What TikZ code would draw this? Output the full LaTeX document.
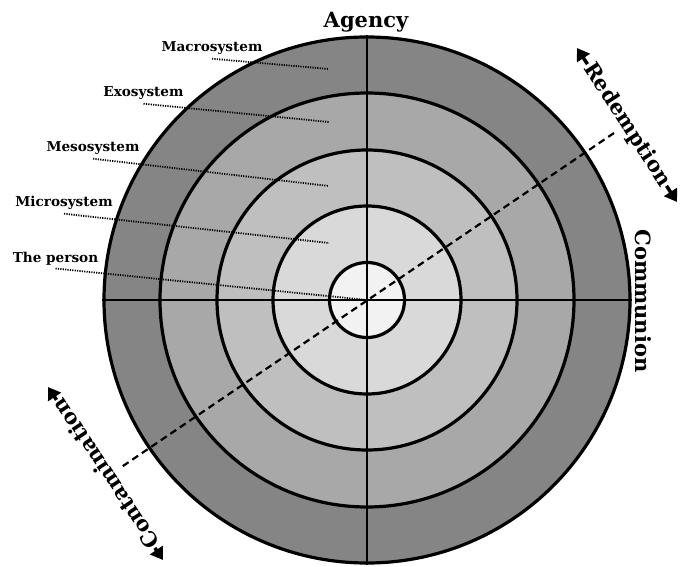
\documentclass[tikz,border=0pt]{standalone}
\usepackage{fontspec}
\setmainfont{DejaVu Serif}
\usepackage{tikz}
\usetikzlibrary{arrows.meta}
\definecolor{macrogray}{HTML}{858585}
\definecolor{exogray}{HTML}{A8A8A8}
\definecolor{mesogray}{HTML}{BFBFBF}
\definecolor{microgray}{HTML}{D9D9D9}
\definecolor{persongray}{HTML}{F2F2F2}
\tikzstyle{ring} = [circle, draw=black, line width=3.2pt, inner sep=0pt]
\tikzstyle{axis} = [line width=2.8pt]
\tikzstyle{slashline} = [line width=2.2pt, dash pattern=on 7pt off 4.5pt]
\tikzstyle{leader} = [line width=1.8pt, dash pattern=on 1.2pt off 1.2pt]
\tikzstyle{levellabel} = [font=\fontsize{13.6}{16}\selectfont\bfseries, inner sep=3.5pt, anchor=base]
\tikzstyle{dimlabel} = [font=\fontsize{21}{25}\selectfont\bfseries, inner sep=1pt]
\tikzstyle{bigarrow} = [line width=3.5pt, -{Triangle[width=15pt,length=12pt]}]

\begin{document}
\begin{tikzpicture}[x=1pt, y=-1pt]
\useasboundingbox (0,0) rectangle (681,567);
\coordinate (c) at (367,300);

% rings, outermost first
\node (macro) [ring, fill=macrogray, minimum size=526pt] at (c) {};
\node (exo) [ring, fill=exogray, minimum size=414pt] at (c) {};
\node (meso) [ring, fill=mesogray, minimum size=300pt] at (c) {};
\node (micro) [ring, fill=microgray, minimum size=188pt] at (c) {};
\node (person) [ring, fill=persongray, minimum size=75pt] at (c) {};

% axes
\draw [axis] (macro.north) -- (macro.south);
\draw [axis] (macro.west) -- (macro.east);
\coordinate (dashA) at (614,133);
\coordinate (dashB) at (120,468);
\draw [slashline] (dashA) -- (dashB);

% level labels
\node (macrolabel) [levellabel] at (212,52) {Macrosystem};
\node (exolabel) [levellabel] at (143.5,97) {Exosystem};
\node (mesolabel) [levellabel] at (93,152) {Mesosystem};
\node (microlabel) [levellabel] at (64,207) {Microsystem};
\node (personlabel) [levellabel] at (55.5,262) {The person};

\coordinate (macropt) at (329,69);
\coordinate (exopt) at (329,122);
\coordinate (mesopt) at (329,186);
\coordinate (micropt) at (329,243);
\draw [leader] (macrolabel.south) -- (macropt);
\draw [leader] (exolabel.south) -- (exopt);
\draw [leader] (mesolabel.south) -- (mesopt);
\draw [leader] (microlabel.south) -- (micropt);
\draw [leader] (personlabel.south) -- (c);

% outer labels
\node (agency) [dimlabel, anchor=base] at (366,28) {Agency};
\node (communion) [dimlabel, rotate=-90] at (643,301) {Communion};
\node (redemption) [dimlabel, rotate=-57] at (627,125) {Redemption};
\node (contamination) [dimlabel, rotate=123.6] at (105.5,474) {Contamination};

\coordinate (redtop) at (577,48);
\coordinate (redbottom) at (677,202);
\coordinate (contop) at (48,387);
\coordinate (conbottom) at (163,560);
\draw [bigarrow] (redemption) -- (redtop);
\draw [bigarrow] (redemption) -- (redbottom);
\draw [bigarrow] (contamination) -- (contop);
\draw [bigarrow] (contamination) -- (conbottom);
\end{tikzpicture}
\end{document}
